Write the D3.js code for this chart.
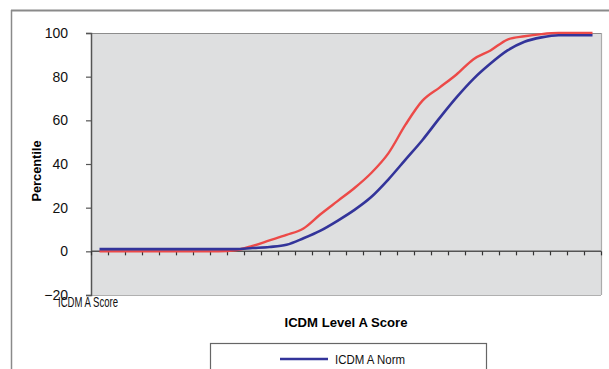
<!DOCTYPE html>
<html><head><meta charset="utf-8">
<script src="https://cdn.jsdelivr.net/npm/d3@7"></script>
<style>html,body{margin:0;padding:0;background:#fff;}svg{display:block;}</style>
</head><body>
<svg id="c" width="609" height="369"></svg>
<script>
const categories = d3.range(1, 31).map(String);
const normValues = [1,1,1,1,1,1,1,1,1,1.5,2,3,6,9.5,14,19,25,33,42,51,61,70.5,79,86,92,96,98,99,99,99];
const sampleValues = [0,0,0,0,0,0,0,0,0.5,2.5,5,7.5,10.5,17,23,29,36,45,58,69,75,81,88,92,97,98.5,99.5,100,100,100];
const yTicks = [-20,0,20,40,60,80,100];
const seriesNames = ["ICDM A Norm", "ICDM A Sample"];
const xTitle = "ICDM Level A Score";
const yTitle = "Percentile";
const catLabel = "ICDM A Score";

const svg = d3.select("#c");
const L = 91, R = 601, T = 33, B = 295;
const x = d3.scaleBand().domain(categories).range([L, R]).padding(0);
const y = d3.scaleLinear().domain([-20, 100]).range([B, T]);
const font = "Arial, 'Liberation Sans', sans-serif";

// outer chart border
svg.append("line").attr("x1", 11).attr("x2", 609).attr("y1", 10.5).attr("y2", 10.5).attr("stroke", "#8a8a8a").attr("stroke-width", 2);
svg.append("line").attr("x1", 11.5).attr("x2", 11.5).attr("y1", 10).attr("y2", 369).attr("stroke", "#8a8a8a").attr("stroke-width", 1.5);

// plot area
svg.append("rect").attr("x", L).attr("y", T).attr("width", R - L).attr("height", B - T).attr("fill", "#dedfe0");
svg.append("line").attr("x1", L).attr("x2", R).attr("y1", T + 0.5).attr("y2", T + 0.5).attr("stroke", "#8c8c8c").attr("stroke-width", 1.2);
svg.append("line").attr("x1", R + 0.5).attr("x2", R + 0.5).attr("y1", T).attr("y2", B).attr("stroke", "#ababab").attr("stroke-width", 1.2);
svg.append("line").attr("x1", L).attr("x2", R).attr("y1", B + 0.5).attr("y2", B + 0.5).attr("stroke", "#b0b0b0").attr("stroke-width", 1.2);

// y axis
const yAxis = d3.axisLeft(y).tickValues(yTicks).tickSize(5).tickPadding(18).tickFormat(d3.format("d"));
const gy = svg.append("g").attr("transform", `translate(${L},0)`).call(yAxis);
gy.select(".domain").attr("stroke", "#555").attr("stroke-width", 1.5);
gy.selectAll(".tick line").attr("stroke", "#555").attr("stroke-width", 1.2);
gy.selectAll(".tick text").attr("font-family", font).attr("font-size", 14).attr("fill", "#111");

// x axis at y=0 with ticks at category boundaries
const gx = svg.append("g").attr("transform", `translate(0,${y(0)})`);
gx.append("line").attr("x1", L).attr("x2", R).attr("stroke", "#555").attr("stroke-width", 1.5);
const bounds = categories.map(c => x(c)).concat([x(categories[categories.length - 1]) + x.bandwidth()]);
gx.selectAll("line.tk").data(bounds).join("line").attr("class", "tk")
  .attr("x1", d => d + 0.5).attr("x2", d => d + 0.5).attr("y1", 0).attr("y2", 4)
  .attr("stroke", "#333").attr("stroke-width", 1.2);

// lines
const cx = c => x(c) + x.bandwidth() / 2;
const lineGen = d3.line().x((d, i) => cx(categories[i])).y(d => y(d)).curve(d3.curveMonotoneX);
svg.append("path").datum(sampleValues).attr("d", lineGen).attr("fill", "none").attr("stroke", "#ec4a48").attr("stroke-width", 2.4);
svg.append("path").datum(normValues).attr("d", lineGen).attr("fill", "none").attr("stroke", "#33349a").attr("stroke-width", 2.6);

// category label
svg.append("text").attr("x", 58).attr("y", 307).attr("font-family", font).attr("font-size", 14)
  .attr("textLength", 60).attr("lengthAdjust", "spacingAndGlyphs").attr("fill", "#111").text(catLabel);

// axis titles
svg.append("text").attr("x", (L + R) / 2).attr("y", 327).attr("text-anchor", "middle").attr("font-family", font)
  .attr("font-size", 13.5).attr("font-weight", "bold").attr("textLength", 123).attr("lengthAdjust", "spacingAndGlyphs")
  .attr("fill", "#000").text(xTitle);
svg.append("text").attr("transform", "translate(41,171) rotate(-90)").attr("text-anchor", "middle").attr("font-family", font)
  .attr("font-size", 13.5).attr("font-weight", "bold").attr("textLength", 61).attr("lengthAdjust", "spacingAndGlyphs")
  .attr("fill", "#000").text(yTitle);

// legend
svg.append("rect").attr("x", 210.5).attr("y", 343.5).attr("width", 276).attr("height", 40).attr("fill", "#fff").attr("stroke", "#666").attr("stroke-width", 1.2);
svg.append("line").attr("x1", 280).attr("x2", 328).attr("y1", 359).attr("y2", 359).attr("stroke", "#33349a").attr("stroke-width", 2.6);
svg.append("text").attr("x", 335).attr("y", 364).attr("font-family", font).attr("font-size", 13)
  .attr("textLength", 70).attr("lengthAdjust", "spacingAndGlyphs").attr("fill", "#111").text(seriesNames[0]);
</script>
</body></html>
